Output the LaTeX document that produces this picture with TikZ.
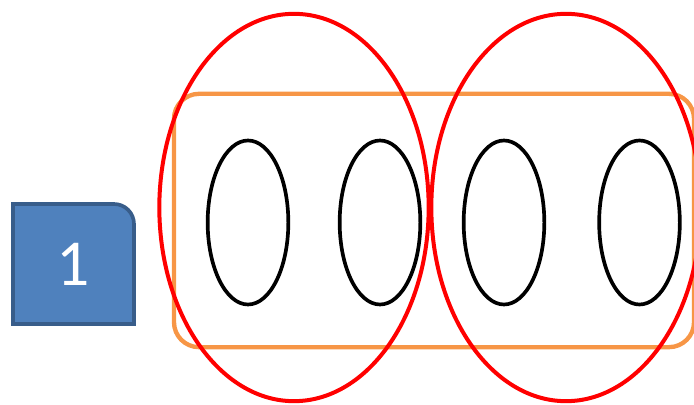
\documentclass[tikz,border=0pt]{standalone}
\usepackage{fontspec}
\setsansfont{Carlito}
\usetikzlibrary{shapes.geometric}
\definecolor{boxblue}{HTML}{4F81BD}
\definecolor{boxedge}{HTML}{385D8A}
\definecolor{groupor}{HTML}{F79646}

\begin{document}
\begin{tikzpicture}[x=0.03cm, y=-0.03cm]
    % Define styles
    \tikzstyle{item} = [ellipse, draw=black, line width=0.11cm, minimum width=2.42cm, minimum height=4.92cm, inner sep=0pt]
    \tikzstyle{cover} = [ellipse, draw=red, line width=0.12cm, minimum width=8.08cm, minimum height=11.62cm, inner sep=0pt]
    \tikzstyle{group} = [rectangle, rounded corners=0.75cm, draw=groupor, line width=0.13cm, minimum width=15.6cm, minimum height=7.6cm, inner sep=0pt]
    \tikzstyle{numbox} = [fill=boxblue, draw=boxedge, line width=0.11cm]

    \useasboundingbox (0,0) rectangle (694,405);
    \clip (0,0) rectangle (694,405);

    % Number box
    \draw [numbox] (13,324) -- (13,204) [rounded corners=0.6cm] -- (134,204) [sharp corners] -- (134,324) -- cycle;
    \node [text=white, font=\sffamily\fontsize{56}{64}\selectfont] (num) at (73.5,264) {1};

    % Group
    \node [group] (grp) at (434,220.5) {};

    % Covers
    \node [cover] (left) at (294,207.5) {};
    \node [cover] (right) at (566,207.5) {};

    % Items
    \node [item] (a) at (248,222.5) {};
    \node [item] (b) at (380,222.5) {};
    \node [item] (c) at (504,222.5) {};
    \node [item] (d) at (639.5,222.5) {};
\end{tikzpicture}
\end{document}
